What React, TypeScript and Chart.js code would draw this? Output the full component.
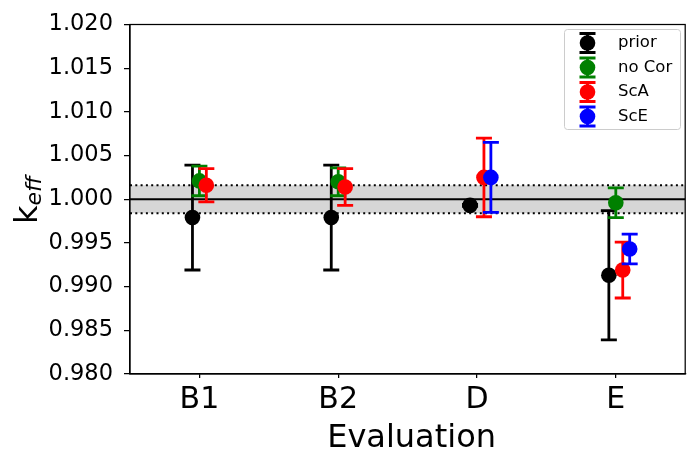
import React, { useEffect, useRef } from 'react';
import { Chart, registerables } from 'chart.js';

Chart.register(...registerables);

const categories = ['B1', 'B2', 'D', 'E'];
const seriesNames = ['prior', 'no Cor', 'ScA', 'ScE'];
const seriesColors = ['#000000', '#008000', '#ff0000', '#0000ff'];
const seriesOffsets = [-0.05, 0, 0.05, 0.1];

const priorValues = [0.9979, 0.9979, 0.9993, 0.9913];
const priorErrors = [0.006, 0.006, 0.0001, 0.0074];
const noCorValues = [1.0021, 1.002, null, 0.9996];
const noCorErrors = [0.0017, 0.0016, null, 0.0017];
const scaValues = [1.0016, 1.0014, 1.0025, 0.9919];
const scaErrors = [0.0019, 0.0021, 0.0045, 0.0032];
const sceValues = [null, null, 1.0025, 0.9943];
const sceErrors = [null, null, 0.004, 0.0017];

const seriesValues = [priorValues, noCorValues, scaValues, sceValues];
const seriesErrors = [priorErrors, noCorErrors, scaErrors, sceErrors];

const referenceValue = 1.0;
const referenceBand = 0.0016;
const yMin = 0.98;
const yMax = 1.02;
const yStep = 0.005;

const FONT = "'DejaVu Sans', sans-serif";

const bandPlugin = {
  id: 'refBand',
  beforeDatasetsDraw(chart: any) {
    const { ctx, chartArea } = chart;
    const y = chart.scales.y;
    const yHi = y.getPixelForValue(referenceValue + referenceBand);
    const yLo = y.getPixelForValue(referenceValue - referenceBand);
    const yMid = y.getPixelForValue(referenceValue);
    ctx.save();
    ctx.fillStyle = '#d6d6d6';
    ctx.fillRect(chartArea.left, yHi, chartArea.right - chartArea.left, yLo - yHi);
    ctx.strokeStyle = '#000';
    ctx.lineWidth = 2;
    ctx.setLineDash([2, 3.3]);
    [yHi, yLo].forEach((py) => {
      ctx.beginPath();
      ctx.moveTo(chartArea.left, py);
      ctx.lineTo(chartArea.right, py);
      ctx.stroke();
    });
    ctx.setLineDash([]);
    ctx.beginPath();
    ctx.moveTo(chartArea.left, yMid);
    ctx.lineTo(chartArea.right, yMid);
    ctx.stroke();
    ctx.restore();
  },
};

const errorBarPlugin = {
  id: 'errorBars',
  beforeDatasetDraw(chart: any, args: any) {
    const ds = chart.data.datasets[args.index];
    const meta = args.meta;
    const ctx = chart.ctx;
    const yScale = chart.scales.y;
    ctx.save();
    ctx.strokeStyle = ds.backgroundColor;
    ctx.lineCap = 'butt';
    meta.data.forEach((el: any, i: number) => {
      const raw = ds.data[i];
      if (!raw || raw.err == null) return;
      const x = el.x;
      const yTop = yScale.getPixelForValue(raw.y + raw.err);
      const yBot = yScale.getPixelForValue(raw.y - raw.err);
      ctx.lineWidth = 2.8;
      ctx.beginPath();
      ctx.moveTo(x, yTop);
      ctx.lineTo(x, yBot);
      ctx.stroke();
      ctx.beginPath();
      ctx.moveTo(x - 8, yTop);
      ctx.lineTo(x + 8, yTop);
      ctx.moveTo(x - 8, yBot);
      ctx.lineTo(x + 8, yBot);
      ctx.stroke();
    });
    ctx.restore();
  },
};

const framePlugin = {
  id: 'frameAndLabels',
  afterDraw(chart: any) {
    const { ctx, chartArea } = chart;
    ctx.save();
    ctx.strokeStyle = '#000';
    ctx.lineWidth = 1.25;
    ctx.strokeRect(chartArea.left, chartArea.top, chartArea.right - chartArea.left, chartArea.bottom - chartArea.top);

    // x title
    ctx.fillStyle = '#000';
    ctx.font = `32px ${FONT}`;
    ctx.textAlign = 'center';
    ctx.textBaseline = 'alphabetic';
    ctx.fillText('Evaluation', (chartArea.left + chartArea.right) / 2 + 4, 447);

    // y title k_eff rotated
    ctx.save();
    ctx.translate(37, 200);
    ctx.rotate(-Math.PI / 2);
    ctx.font = `32px ${FONT}`;
    ctx.textAlign = 'left';
    const kW = ctx.measureText('k').width;
    ctx.font = `italic 22px ${FONT}`;
    const eW = ctx.measureText('eff').width;
    const total = kW + eW;
    ctx.font = `32px ${FONT}`;
    ctx.fillText('k', -total / 2, 0);
    ctx.font = `italic 22px ${FONT}`;
    ctx.fillText('eff', -total / 2 + kW, 4);
    ctx.restore();

    // legend
    const lx = 564.5, ly = 29.5, lw = 116, lh = 100;
    ctx.fillStyle = 'rgba(255,255,255,0.8)';
    ctx.strokeStyle = '#cccccc';
    ctx.lineWidth = 1;
    ctx.beginPath();
    (ctx as any).roundRect(lx, ly, lw, lh, 3);
    ctx.fill();
    ctx.stroke();
    const rows = [43, 67.5, 92, 116.5];
    seriesNames.forEach((name, i) => {
      const cx = 587.5;
      const cy = rows[i];
      ctx.strokeStyle = seriesColors[i];
      ctx.fillStyle = seriesColors[i];
      ctx.lineWidth = 2.8;
      ctx.beginPath();
      ctx.moveTo(cx, cy - 9.5);
      ctx.lineTo(cx, cy + 9.5);
      ctx.moveTo(cx - 8, cy - 9.5);
      ctx.lineTo(cx + 8, cy - 9.5);
      ctx.moveTo(cx - 8, cy + 9.5);
      ctx.lineTo(cx + 8, cy + 9.5);
      ctx.stroke();
      ctx.beginPath();
      ctx.arc(cx, cy, 7.8, 0, Math.PI * 2);
      ctx.fill();
      ctx.fillStyle = '#000';
      ctx.font = `16.5px ${FONT}`;
      ctx.textAlign = 'left';
      ctx.textBaseline = 'middle';
      ctx.fillText(name, 618, cy);
    });
    ctx.restore();
  },
};

export default function App() {
  const canvasRef = useRef<HTMLCanvasElement | null>(null);

  useEffect(() => {
    document.body.style.margin = '0';
    const canvas = canvasRef.current;
    if (!canvas) return;

    const datasets = seriesNames.map((name, s) => ({
      label: name,
      data: categories
        .map((_, i) => ({
          x: i + seriesOffsets[s],
          y: seriesValues[s][i] as number,
          err: seriesErrors[s][i] as number,
        }))
        .filter((p) => p.y != null),
      backgroundColor: seriesColors[s],
      borderColor: seriesColors[s],
      borderWidth: 0,
      pointRadius: 7.8,
      pointHoverRadius: 7.8,
      showLine: false,
      order: 4 - s,
    }));

    const chart = new Chart(canvas, {
      type: 'scatter',
      data: { datasets },
      plugins: [bandPlugin, errorBarPlugin, framePlugin],
      options: {
        animation: false,
        responsive: false,
        maintainAspectRatio: false,
        events: [],
        layout: { padding: { left: 0, top: 20, right: 3.5, bottom: 0 } },
        plugins: {
          legend: { display: false },
          tooltip: { enabled: false },
        },
        scales: {
          x: {
            type: 'linear',
            min: -0.5,
            max: 3.5,
            afterFit: (s: any) => {
              s.height = 78;
            },
            afterBuildTicks: (s: any) => {
              s.ticks = categories.map((_, i) => ({ value: i }));
            },
            ticks: {
              autoSkip: false,
              maxRotation: 0,
              padding: 4,
              color: '#000',
              font: { family: FONT, size: 30 },
              callback: (v: any) => categories[Math.round(v)] ?? '',
            },
            grid: {
              display: true,
              drawOnChartArea: false,
              drawTicks: true,
              tickLength: 4,
              color: '#000',
              lineWidth: 1.25,
            },
            border: { display: true, color: '#000', width: 1.25 },
          },
          y: {
            type: 'linear',
            min: yMin,
            max: yMax,
            afterFit: (s: any) => {
              s.width = 130;
            },
            ticks: {
              stepSize: yStep,
              padding: 11,
              color: '#000',
              font: { family: FONT, size: 22.5 },
              callback: (v: any) => Number(v).toFixed(3),
            },
            grid: {
              display: true,
              drawOnChartArea: false,
              drawTicks: true,
              tickLength: 6,
              color: '#000',
              lineWidth: 1.25,
            },
            border: { display: true, color: '#000', width: 1.25 },
          },
        },
      },
    } as any);

    return () => chart.destroy();
  }, []);

  return (
    <div style={{ width: 693, height: 452 }}>
      <canvas ref={canvasRef} width={693} height={452} style={{ display: 'block', width: 693, height: 452 }} />
    </div>
  );
}
